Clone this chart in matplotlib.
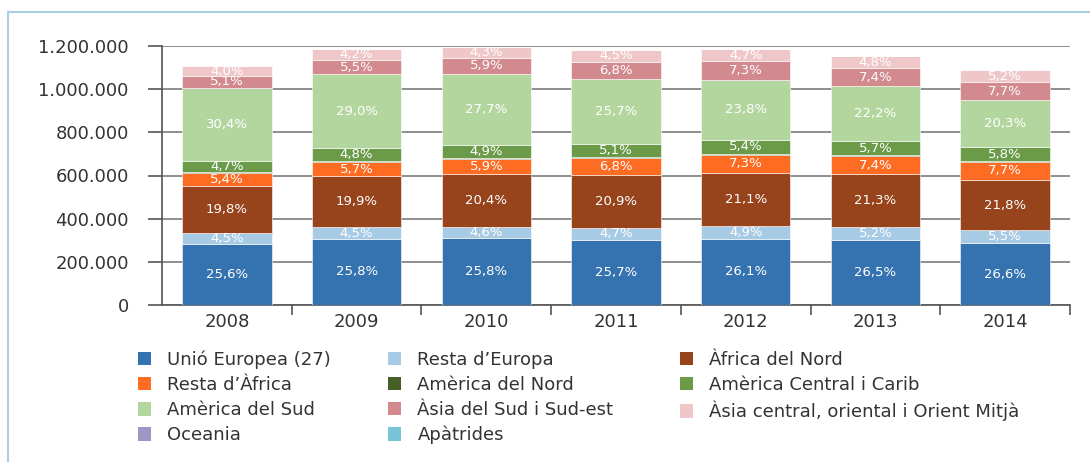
import numpy as np
import matplotlib.pyplot as plt
from matplotlib.patches import Patch
from matplotlib.lines import Line2D

# dades
years = ['2008', '2009', '2010', '2011', '2012', '2013', '2014']
totals = [1107000, 1186000, 1195000, 1181000, 1186000, 1153000, 1088000]

series_names = ['Unió Europea (27)', 'Resta d\u2019Europa', '\u00c0frica del Nord',
                'Resta d\u2019\u00c0frica', 'Am\u00e8rica del Nord', 'Am\u00e8rica Central i Carib',
                'Am\u00e8rica del Sud', '\u00c0sia del Sud i Sud-est',
                '\u00c0sia central, oriental i Orient Mitj\u00e0', 'Oceania', 'Ap\u00e0trides']
colors = ['#3573b0', '#a7cbe4', '#97441d', '#fe6b22', '#465f26', '#6b9b49',
          '#b3d69f', '#d28a8f', '#efc7c9', '#9b98c3', '#77c5d6']

# percentatges per any
unio_europea = [25.6, 25.8, 25.8, 25.7, 26.1, 26.5, 26.6]
resta_europa = [4.5, 4.5, 4.6, 4.7, 4.9, 5.2, 5.5]
africa_nord = [19.8, 19.9, 20.4, 20.9, 21.1, 21.3, 21.8]
resta_africa = [5.4, 5.7, 5.9, 6.8, 7.3, 7.4, 7.7]
america_nord = [0.4, 0.4, 0.4, 0.4, 0.4, 0.4, 0.4]
america_central = [4.7, 4.8, 4.9, 5.1, 5.4, 5.7, 5.8]
america_sud = [30.4, 29.0, 27.7, 25.7, 23.8, 22.2, 20.3]
asia_sud = [5.1, 5.5, 5.9, 6.8, 7.3, 7.4, 7.7]
asia_central = [4.0, 4.2, 4.3, 4.5, 4.7, 4.8, 5.2]
oceania = [0.05, 0.05, 0.05, 0.05, 0.05, 0.05, 0.05]
apatrides = [0.02, 0.02, 0.02, 0.02, 0.02, 0.02, 0.02]

series = [unio_europea, resta_europa, africa_nord, resta_africa, america_nord,
          america_central, america_sud, asia_sud, asia_central, oceania, apatrides]
labelled = [True, True, True, True, False, True, True, True, True, False, False]

fig = plt.figure(figsize=(10.9, 4.62), dpi=100)
ax = fig.add_axes([162 / 1090, 1 - 305 / 462, (1070 - 162) / 1090, (305 - 46) / 462])

x = np.arange(len(years))
tot = np.array(totals, dtype=float)
pct_sum = np.sum(np.array(series), axis=0)  # els percentatges arrodonits no sumen exactament 100
bottom = np.zeros(len(years))
for vals, col, lab in zip(series, colors, labelled):
    h = tot * np.array(vals) / pct_sum
    ax.bar(x, h, 0.69, bottom=bottom, color=col, edgecolor='white', linewidth=0.4, zorder=3)
    if lab:
        for xi, b, hi, v in zip(x, bottom, h, vals):
            ax.text(xi, b + hi / 2, f'{v:.1f}%'.replace('.', ','), ha='center', va='center',
                    color='white', fontsize=9.5, zorder=4)
    bottom += h

ax.set_xlim(-0.5, len(years) - 0.5)
ax.set_ylim(0, 1200000)
ax.set_yticks(np.arange(0, 1200001, 200000))
ax.set_yticklabels([f'{int(v):,}'.replace(',', '.') for v in ax.get_yticks()], fontsize=13, color='#333333')
ax.set_xticks(x)
ax.set_xticklabels(years, fontsize=13, color='#333333')
ax.set_xticks(np.arange(0.5, len(years), 1), minor=True)
ax.tick_params(axis='x', which='major', length=0, pad=6)
ax.tick_params(axis='x', which='minor', length=7, width=1.2, color='#555555', direction='out')
ax.tick_params(axis='y', length=10, width=1.2, color='#555555', direction='out', pad=14)
ax.yaxis.grid(True, color='#8e8e8e', linewidth=1.4, zorder=0)
for s in ['top', 'right']:
    ax.spines[s].set_visible(False)
ax.spines['left'].set_color('#555555')
ax.spines['bottom'].set_color('#555555')
ax.spines['left'].set_linewidth(1.2)
ax.spines['bottom'].set_linewidth(1.2)

# llegenda: una columna per legend, posades a mà
columns = [[0, 3, 6, 9], [1, 4, 7, 10], [2, 5, 8]]
col_x = [125, 375, 667]
for idx, cx in zip(columns, col_x):
    handles = [Patch(facecolor=colors[i], edgecolor='none') for i in idx]
    names = [series_names[i] for i in idx]
    fig.legend(handles, names, loc='upper left', bbox_to_anchor=(cx / 1090, 1 - 338 / 462),
               ncol=1, frameon=False, fontsize=13, handlelength=0.75, handleheight=0.75,
               handletextpad=0.9, labelspacing=0.39, borderpad=0.2, labelcolor='#333333')

# marc
fig.add_artist(Line2D([7.5 / 1090, 7.5 / 1090], [0, 1 - 12 / 462], color='#a8cfe3', linewidth=1.5))
fig.add_artist(Line2D([7.5 / 1090, 1], [1 - 12 / 462, 1 - 12 / 462], color='#a8cfe3', linewidth=1.5))

fig.savefig('out.png', dpi=100)
